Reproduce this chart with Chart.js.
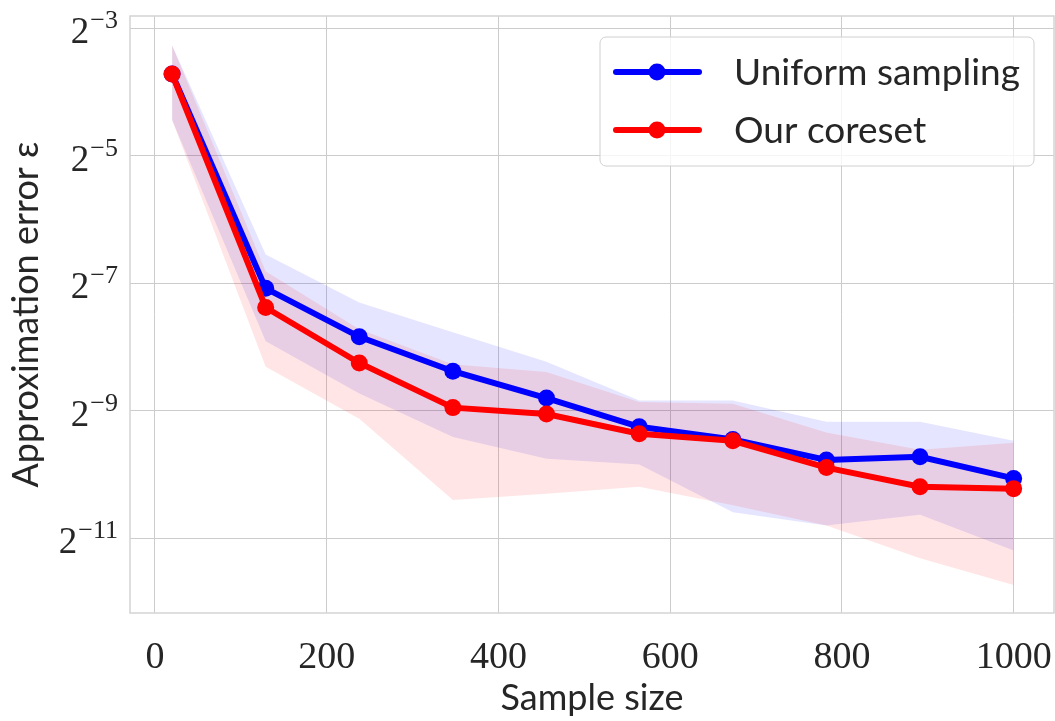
<!DOCTYPE html>
<html lang="en">
<head>
    <meta charset="UTF-8">
    <title>Approximation error vs sample size</title>
    <script src="https://cdn.jsdelivr.net/npm/chart.js"></script>
    <style>
        html, body { margin: 0; padding: 0; background: #ffffff; }
        #wrap { width: 1055px; height: 721px; }
    </style>
</head>
<body>
    <div id="wrap">
        <canvas id="errorChart" width="1055" height="721"></canvas>
    </div>

    <script>
        // values
        const sampleSizes = [20, 129, 238, 347, 456, 564, 673, 782, 891, 1000];

        const uniformMean  = [0.0759, 0.007391, 0.004364, 0.003002, 0.002244, 0.001642, 0.001430, 0.0011454, 0.0011857, 0.0009368];
        const uniformUpper = [0.10367, 0.010672, 0.006346, 0.004581, 0.003331, 0.002182, 0.002182, 0.001736, 0.001736, 0.001410];
        const uniformLower = [0.04607, 0.004158, 0.002355, 0.001470, 0.0011613, 0.0010911, 0.0006488, 0.0005609, 0.0006310, 0.0004280];

        const coresetMean  = [0.0759, 0.006003, 0.003285, 0.002022, 0.0018866, 0.0015218, 0.001410, 0.0010539, 0.0008561, 0.0008384];
        const coresetUpper = [0.10367, 0.008912, 0.004743, 0.003240, 0.002981, 0.002152, 0.002108, 0.001543, 0.0012797, 0.0013811];
        const coresetLower = [0.04607, 0.003151, 0.001791, 0.0007401, 0.0007932, 0.0008561, 0.0007002, 0.0005609, 0.0003939, 0.0002944];

        const xTicks = [0, 200, 400, 600, 800, 1000];
        const yTickExponents = [-3, -5, -7, -9, -11];

        const seriesNames = ['Uniform sampling', 'Our coreset'];
        const seriesColors = ['#0000ff', '#ff0000'];

        const textColor = '#262626';
        const gridColor = '#cccccc';

        function toPoints(values) {
            return values.map((v, i) => ({ x: sampleSizes[i], y: v }));
        }

        function band(values, fill, color, order) {
            return {
                data: toPoints(values),
                borderColor: 'transparent',
                borderWidth: 0,
                pointRadius: 0,
                pointHoverRadius: 0,
                fill: fill,
                backgroundColor: color,
                tension: 0,
                order: order
            };
        }

        function meanLine(values, color, order) {
            return {
                data: toPoints(values),
                borderColor: color,
                backgroundColor: color,
                pointBackgroundColor: color,
                pointBorderColor: color,
                borderWidth: 6,
                pointRadius: 8.5,
                pointBorderWidth: 0,
                fill: false,
                tension: 0,
                order: order
            };
        }

        // superscript tick labels, frame and the line+marker legend
        const decorations = {
            id: 'decorations',
            afterDraw(chart) {
                const ctx = chart.ctx;
                const area = chart.chartArea;
                const yScale = chart.scales.y;

                ctx.save();
                ctx.strokeStyle = '#d4d4d4';
                ctx.lineWidth = 1.5;
                ctx.strokeRect(area.left, area.top, area.right - area.left, area.bottom - area.top);

                ctx.fillStyle = textColor;
                ctx.textBaseline = 'alphabetic';
                yScale.ticks.forEach(t => {
                    const py = yScale.getPixelForValue(t.value);
                    const expText = '\u2212' + Math.abs(t.exp);
                    ctx.font = '26px "Liberation Serif"';
                    ctx.textAlign = 'right';
                    const expW = ctx.measureText(expText).width;
                    ctx.fillText(expText, 118, py);
                    ctx.font = '37px "Liberation Serif"';
                    ctx.fillText('2', 117 - expW, py + 15);
                });

                // legend box
                const bx = 600, by = 37, bw = 434, bh = 129, r = 6;
                ctx.beginPath();
                ctx.moveTo(bx + r, by);
                ctx.arcTo(bx + bw, by, bx + bw, by + bh, r);
                ctx.arcTo(bx + bw, by + bh, bx, by + bh, r);
                ctx.arcTo(bx, by + bh, bx, by, r);
                ctx.arcTo(bx, by, bx + bw, by, r);
                ctx.closePath();
                ctx.fillStyle = 'rgba(255,255,255,0.8)';
                ctx.fill();
                ctx.strokeStyle = '#d0d0d0';
                ctx.lineWidth = 1;
                ctx.stroke();

                const rows = [72, 130];
                seriesNames.forEach((name, i) => {
                    const ry = rows[i];
                    ctx.strokeStyle = seriesColors[i];
                    ctx.lineWidth = 6;
                    ctx.lineCap = 'round';
                    ctx.beginPath();
                    ctx.moveTo(616, ry);
                    ctx.lineTo(699, ry);
                    ctx.stroke();
                    ctx.fillStyle = seriesColors[i];
                    ctx.beginPath();
                    ctx.arc(657, ry, 8.5, 0, Math.PI * 2);
                    ctx.fill();
                    ctx.fillStyle = textColor;
                    ctx.font = '37px Lato';
                    ctx.textAlign = 'left';
                    ctx.textBaseline = 'middle';
                    ctx.fillText(name, 734, ry + 1);
                });
                ctx.restore();
            }
        };

        const ctx = document.getElementById('errorChart').getContext('2d');
        const errorChart = new Chart(ctx, {
            type: 'line',
            data: {
                datasets: [
                    band(uniformUpper, '+1', 'rgba(0,0,255,0.1)', 6),
                    band(uniformLower, false, 'rgba(0,0,255,0.1)', 6),
                    band(coresetUpper, '+1', 'rgba(255,0,0,0.1)', 5),
                    band(coresetLower, false, 'rgba(255,0,0,0.1)', 5),
                    meanLine(uniformMean, seriesColors[0], 2),
                    meanLine(coresetMean, seriesColors[1], 1)
                ]
            },
            options: {
                responsive: false,
                animation: false,
                layout: {
                    autoPadding: false,
                    padding: { top: 16, right: 1, left: 0, bottom: 0 }
                },
                plugins: {
                    legend: { display: false },
                    tooltip: { enabled: false }
                },
                scales: {
                    x: {
                        type: 'linear',
                        min: -29,
                        max: 1047,
                        afterBuildTicks: scale => {
                            scale.ticks = xTicks.map(v => ({ value: v }));
                        },
                        afterFit: scale => {
                            scale.height = 108;
                            scale.paddingLeft = 0;
                            scale.paddingRight = 0;
                        },
                        grid: { color: gridColor, lineWidth: 1, drawTicks: false },
                        border: { display: false },
                        ticks: {
                            color: textColor,
                            font: { family: 'Liberation Serif', size: 38 },
                            padding: 22,
                            maxRotation: 0,
                            callback: v => String(v)
                        },
                        title: {
                            display: true,
                            text: 'Sample size',
                            color: textColor,
                            font: { family: 'Lato', size: 36 },
                            padding: { top: 0, bottom: 1 }
                        }
                    },
                    y: {
                        type: 'logarithmic',
                        min: 0.000217,
                        max: 0.1426,
                        afterBuildTicks: scale => {
                            scale.ticks = yTickExponents.map(e => ({ value: Math.pow(2, e), exp: e }));
                        },
                        afterFit: scale => {
                            scale.width = 130;
                            scale.paddingTop = 0;
                            scale.paddingBottom = 0;
                        },
                        grid: { color: gridColor, lineWidth: 1, drawTicks: false },
                        border: { display: false },
                        ticks: {
                            callback: () => ''
                        },
                        title: {
                            display: true,
                            text: 'Approximation error \u03b5',
                            color: textColor,
                            font: { family: 'Lato', size: 36 },
                            padding: { top: 5, bottom: 0 }
                        }
                    }
                }
            },
            plugins: [decorations]
        });
    </script>
</body>
</html>
